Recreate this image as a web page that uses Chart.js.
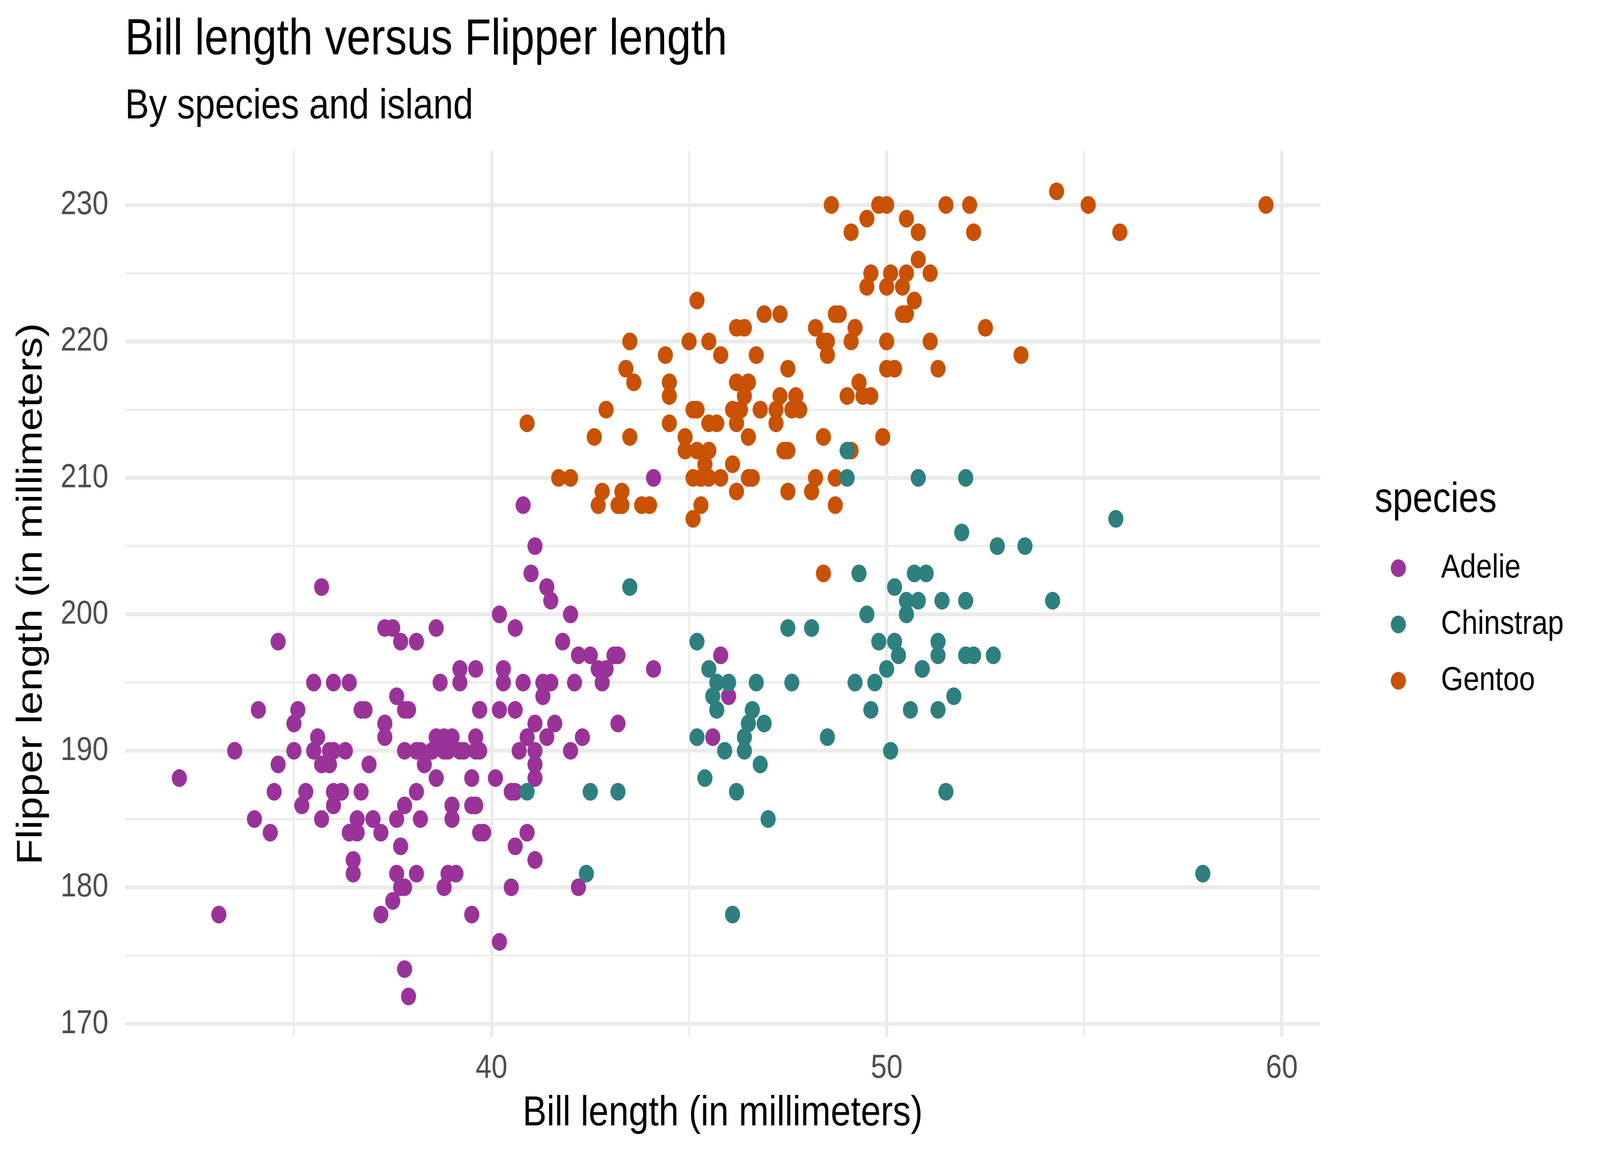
<!DOCTYPE html>
<html>
<head>
<meta charset="utf-8">
<script src="https://cdn.jsdelivr.net/npm/chart.js@4/dist/chart.umd.min.js"></script>
<style>
  html, body { margin: 0; padding: 0; background: #ffffff; overflow: hidden; }
  #wrap { width: 4800px; height: 2966px; transform-origin: 0 0; }
</style>
</head>
<body>
<div id="wrap"><canvas id="c" width="4800" height="2966"></canvas></div>
<script>
// ---------- data (Palmer penguins: bill length mm vs flipper length mm) ----------
const species = ['Adelie', 'Chinstrap', 'Gentoo'];

const adelieBill = [
  39.1,39.5,40.3,36.7,39.3,38.9,39.2,34.1,42.0,37.8,
  37.8,41.1,38.6,34.6,36.6,38.7,42.5,34.4,46.0,37.8,
  37.7,35.9,38.2,38.8,35.3,40.6,40.5,37.9,40.5,39.5,
  37.2,39.5,40.9,36.4,39.2,38.8,42.2,37.6,39.8,36.5,
  40.8,36.0,44.1,37.0,39.6,41.1,37.5,36.0,42.3,39.6,
  40.1,35.0,42.0,34.5,41.4,39.0,40.6,36.5,37.6,35.7,
  41.3,37.6,41.1,36.4,41.6,35.5,41.1,35.9,41.8,33.5,
  39.7,39.6,45.8,35.5,42.8,40.9,37.2,36.2,42.1,34.6,
  42.9,36.7,35.1,37.3,41.3,36.3,36.9,38.3,38.9,35.7,
  41.1,34.0,39.6,36.2,40.8,38.1,40.3,33.1,43.2,35.0,
  41.0,37.7,37.8,37.9,39.7,38.6,38.2,38.1,43.2,38.1,
  45.6,39.7,42.2,39.6,42.7,38.6,37.3,35.7,41.1,36.2,
  37.7,40.2,41.4,35.2,40.6,38.8,41.5,39.0,44.1,38.5,
  43.1,36.8,37.5,38.1,41.1,35.6,40.2,37.0,39.7,40.2,
  40.6,32.1,40.7,37.3,39.0,39.2,36.6,36.0,37.8,36.0,
  41.5
];
const adelieFlipper = [
  181,186,195,193,190,181,195,193,190,186,
  180,182,191,198,185,195,197,184,194,174,
  180,189,185,180,187,183,187,172,180,178,
  178,188,184,195,196,190,180,181,184,182,
  195,186,196,185,190,182,179,190,191,186,
  188,190,200,187,191,186,193,181,194,185,
  195,185,192,184,192,195,188,190,198,190,
  190,196,197,190,195,191,184,187,195,189,
  196,187,193,191,194,190,189,189,190,202,
  205,185,186,187,208,190,196,178,192,192,
  203,183,190,193,184,199,190,181,197,198,
  191,193,197,191,196,188,199,189,189,187,
  198,176,202,186,199,191,195,191,210,190,
  197,193,199,187,190,191,200,185,193,193,
  187,188,190,192,185,190,184,195,193,187,
  201
];

const chinstrapBill = [
  46.5,50.0,51.3,45.4,52.7,45.2,46.1,51.3,46.0,51.3,
  46.6,51.7,47.0,52.0,45.9,50.5,50.3,58.0,46.4,49.2,
  42.4,48.5,43.2,50.6,46.7,52.0,50.5,49.5,46.4,52.8,
  40.9,54.2,42.5,51.0,49.7,47.5,47.6,52.0,46.9,53.5,
  49.0,46.2,50.9,45.5,50.9,50.8,50.1,49.0,51.5,49.8,
  48.1,51.4,45.7,50.7,42.5,52.2,45.2,49.3,50.2,45.6,
  51.9,46.8,45.7,55.8,43.5,49.6,50.8,50.2
];
const chinstrapFlipper = [
  192,196,193,188,197,198,178,197,195,198,
  193,194,185,201,190,201,197,181,190,195,
  181,191,187,193,195,197,200,200,191,205,
  187,201,187,203,195,199,195,210,192,205,
  210,187,196,196,196,201,190,212,187,198,
  199,201,193,203,187,197,191,203,202,194,
  206,189,195,207,202,193,210,198
];

const gentooBill = [
  46.1,50.0,48.7,50.0,47.6,46.5,45.4,46.7,43.3,46.8,
  40.9,49.0,45.5,48.4,45.8,49.3,42.0,49.2,46.2,48.7,
  50.2,45.1,46.5,46.3,42.9,46.1,44.5,47.8,48.2,50.0,
  47.3,42.8,45.1,59.6,49.1,48.4,42.6,44.4,44.0,48.7,
  42.7,49.6,45.3,49.6,50.5,43.6,45.5,50.5,44.9,45.2,
  46.6,48.5,45.1,50.1,46.5,45.0,43.8,45.5,43.2,50.4,
  45.3,46.2,45.7,54.3,45.8,49.8,46.2,49.5,43.5,50.7,
  47.7,46.4,48.2,46.5,46.4,48.6,47.5,51.1,45.2,45.2,
  49.1,52.5,47.4,50.0,44.9,50.8,43.4,51.3,47.5,52.1,
  47.5,52.2,45.5,49.5,44.5,50.8,49.4,46.9,48.4,51.1,
  48.5,55.9,47.2,49.1,47.3,46.8,41.7,53.4,43.3,48.1,
  50.5,49.8,43.5,51.5,46.2,55.1,44.5,48.8,47.2,46.8,
  50.4,45.2,49.9
];
const gentooFlipper = [
  211,230,210,218,215,210,211,219,209,215,
  214,216,214,213,210,217,210,221,209,222,
  218,215,213,215,215,215,216,215,210,220,
  222,209,207,230,220,220,213,219,208,208,
  208,225,210,216,222,217,210,225,213,215,
  210,220,210,225,217,220,208,220,208,224,
  208,221,214,231,219,230,214,229,220,223,
  216,221,221,217,216,230,209,220,215,223,
  212,221,212,224,212,228,218,218,212,230,
  218,228,212,224,214,226,216,222,203,225,
  219,228,215,228,216,215,210,219,208,209,
  229,230,213,230,217,230,217,222,214,215,
  222,212,213
];

// ticks: labelled majors, unlabelled minors (grid lines only)
const xTickValues = [35, 40, 45, 50, 55, 60];
const xTickLabels = ['', '40', '', '50', '', '60'];
const yTickValues = [170, 175, 180, 185, 190, 195, 200, 205, 210, 215, 220, 225, 230];
const yTickLabels = ['170', '', '180', '', '190', '', '200', '', '210', '', '220', '', '230'];

const titleText = 'Bill length versus Flipper length';
const subtitleText = 'By species and island';
const xTitle = 'Bill length (in millimeters)';
const yTitle = 'Flipper length (in millimeters)';
const legendTitle = 'species';

// ---------- page fit: design space is 4800 x 2966 ----------
const W = 4800, H = 2966;
const sx = window.innerWidth / W, sy = window.innerHeight / H;
document.getElementById('wrap').style.transform = 'scale(' + sx + ',' + sy + ')';

// ---------- styling ----------
const FONT = '"Liberation Sans", Arial, Helvetica, sans-serif';
const colors = { Adelie: '#9A3399', Chinstrap: '#2E807F', Gentoo: '#C85200' };
const GRID = '#EBEBEB';
const POINT_R = 22.7;
const LEG_FS = 86, LEG_PAD = 58, LEG_BOX = 98, LEG_LEFT = 4124;

// legend width as Chart.js computes it, so the legend starts at LEG_LEFT
const mctx = document.createElement('canvas').getContext('2d');
mctx.font = LEG_FS + 'px ' + FONT;
const maxText = Math.max.apply(null, species.map(s => mctx.measureText(s).width));
const legendWidth = LEG_PAD + LEG_BOX + LEG_FS / 2 + maxText + 10;
const padRight = Math.max(0, W - LEG_LEFT - legendWidth);

function toPoints(xs, ys) { return xs.map((x, i) => ({ x: x, y: ys[i] })); }

// legend marker: circle drawn offset inside a wider image
function makeMarker(color) {
  const c = document.createElement('canvas');
  c.width = 160; c.height = 60;
  const g = c.getContext('2d');
  g.fillStyle = color;
  g.beginPath();
  g.arc(80 - 36, 30, POINT_R, 0, Math.PI * 2);
  g.fill();
  return c;
}
const markers = {};
species.forEach(s => { markers[s] = makeMarker(colors[s]); });

function minorMajorWidth(ctx) {
  const v = ctx.tick ? ctx.tick.value : 0;
  return (Math.round(v) % 10 === 0) ? 10 : 5;
}

const datasets = [
  { label: 'Adelie', data: toPoints(adelieBill, adelieFlipper), order: 3 },
  { label: 'Chinstrap', data: toPoints(chinstrapBill, chinstrapFlipper), order: 1 },
  { label: 'Gentoo', data: toPoints(gentooBill, gentooFlipper), order: 2 }
].map(d => Object.assign(d, {
  backgroundColor: colors[d.label], borderColor: colors[d.label],
  pointRadius: POINT_R, pointHoverRadius: POINT_R, pointBorderWidth: 0, pointStyle: 'circle'
}));

new Chart(document.getElementById('c'), {
  type: 'scatter',
  data: { datasets: datasets },
  options: {
    responsive: false, animation: false, devicePixelRatio: 1, events: [],
    layout: { padding: { left: 0, right: padRight, top: 0, bottom: 0 } },
    scales: {
      x: {
        type: 'linear', position: 'bottom', min: 30.725, max: 60.975, bounds: 'data',
        afterBuildTicks: s => { s.ticks = xTickValues.map(v => ({ value: v })); },
        afterFit: s => { s.height = 313; },
        grid: { color: GRID, lineWidth: minorMajorWidth, drawTicks: false },
        border: { display: false },
        ticks: { autoSkip: false, maxRotation: 0, minRotation: 0, padding: 30,
          color: '#4D4D4D', font: { family: FONT, size: 86 },
          callback: (v) => xTickLabels[xTickValues.indexOf(v)] ?? '' },
        title: { display: true, text: xTitle, color: '#000000',
                 font: { family: FONT, size: 108 }, padding: { top: 0, bottom: 51 } }
      },
      y: {
        type: 'linear', position: 'left', min: 169.05, max: 233.95, bounds: 'data',
        afterBuildTicks: s => { s.ticks = yTickValues.map(v => ({ value: v })); },
        afterFit: s => { s.width = 375; },
        grid: { color: GRID, lineWidth: minorMajorWidth, drawTicks: false },
        border: { display: false },
        ticks: { autoSkip: false, padding: 50, color: '#4D4D4D', font: { family: FONT, size: 86 },
          callback: (v) => yTickLabels[yTickValues.indexOf(v)] ?? '' },
        title: { display: true, text: yTitle, color: '#000000',
                 font: { family: FONT, size: 108 }, padding: { top: 30, bottom: 0 } }
      },
      gap: {
        type: 'linear', position: 'right', display: true,
        grid: { display: false, drawTicks: false }, border: { display: false },
        ticks: { display: false }, afterFit: s => { s.width = 163; }
      }
    },
    plugins: {
      tooltip: { enabled: false },
      title: { display: true, text: titleText, align: 'start', fullSize: false,
        color: '#000000', font: { family: FONT, size: 130, weight: 'normal' }, padding: { top: 25, bottom: 0 } },
      subtitle: { display: true, text: subtitleText, align: 'start', fullSize: false,
        color: '#000000', font: { family: FONT, size: 108, weight: 'normal' }, padding: { top: 27, bottom: 49 } },
      legend: {
        display: true, position: 'right', align: 'center', fullSize: false,
        title: { display: true, text: legendTitle, color: '#000000', position: 'start',
          font: { family: FONT, size: 108 }, padding: { top: 29.5, bottom: -2.6 } },
        labels: {
          usePointStyle: true, pointStyleWidth: LEG_BOX, padding: LEG_PAD, color: '#000000',
          font: { family: FONT, size: LEG_FS },
          sort: (a, b) => a.datasetIndex - b.datasetIndex,
          generateLabels: (chart) => {
            const items = Chart.defaults.plugins.legend.labels.generateLabels(chart);
            return items.map(it => Object.assign(it, { pointStyle: markers[it.text], lineWidth: 0 }));
          }
        }
      }
    }
  }
});
</script>
</body>
</html>
